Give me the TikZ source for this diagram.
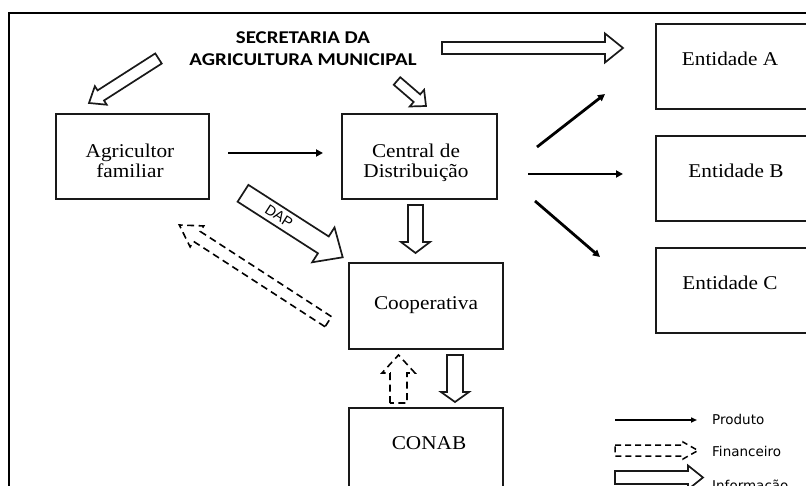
\documentclass[tikz,border=0pt]{standalone}
\usepackage{fontspec}
\setmainfont[FakeStretch=1.09]{Liberation Serif}
\newfontfamily\secfont[FakeStretch=1.16]{Carlito}
\newfontfamily\legfont{DejaVu Sans}
\newfontfamily\dapfont{Liberation Sans}
\usetikzlibrary{calc,arrows.meta}
% block arrow: #1 style, #2 tail, #3 tip, #4 shaft half width, #5 head half width, #6 head length
\newcommand{\blockarr}[6]{%
  \coordinate (bahead) at ($(#3)!#6!(#2)$);
  \draw[#1] ($(#2)!#4!90:(#3)$) -- ($(bahead)!#4!90:(#3)$) -- ($(bahead)!#5!90:(#3)$)
    -- (#3) -- ($(bahead)!#5!-90:(#3)$) -- ($(bahead)!#4!-90:(#3)$) -- ($(#2)!#4!-90:(#3)$) -- cycle;
}
\begin{document}
\begin{tikzpicture}[x=1pt,y=-1pt,
  box/.style={draw=black!90, line width=1.8pt, inner sep=0pt, outer sep=0pt},
  serif/.style={inner sep=0pt, font=\fontsize{19.5}{20}\selectfont, align=center},
  info/.style={draw=black!90, line width=1.7pt, fill=white, line join=miter},
  fin/.style={draw=black, line width=1.6pt, dash pattern=on 7pt off 4.5pt, fill=white},
  prod/.style={line width=2.8pt, -{Triangle[length=7pt,width=7pt]}},
  leg/.style={inner sep=0pt, anchor=base west, font=\legfont\fontsize{13.5}{14}\selectfont}]
\useasboundingbox (0,0) rectangle (806,486);
\clip (0,0) rectangle (806,486);
% frame
\draw[line width=2.5pt] (9,520) -- (9,13) -- (840,13);
% boxes
\node[box, minimum width=153pt, minimum height=85pt] (agr) at (132.5,156.5) {};
\node[box, minimum width=155pt, minimum height=85pt] (cen) at (419.5,156.5) {};
\node[box, minimum width=154pt, minimum height=86pt] (coop) at (426,306) {};
\node[box, minimum width=154pt, minimum height=132pt] (conab) at (426,474) {};
\node[box, minimum width=184pt, minimum height=85pt] (entA) at (748,66.5) {};
\node[box, minimum width=184pt, minimum height=85pt] (entB) at (748,178.5) {};
\node[box, minimum width=184pt, minimum height=85pt] (entC) at (748,290.5) {};
% texts
\node[inner sep=0pt, align=center, font=\secfont\bfseries\fontsize{18}{21.7}\selectfont] (sec) at (303,48.4) {SECRETARIA DA\\AGRICULTURA MUNICIPAL};
\node[serif] (agrtxt) at (130,161) {Agricultor\\familiar};
\node[serif] (centxt) at (416,163) {Central de\\Distribuição};
\node[serif, anchor=base] (cooptxt) at (426,310) {Cooperativa};
\node[serif, anchor=base] (conabtxt) at (429,449) {CONAB};
\node[serif, anchor=base] (entAtxt) at (730,65.7) {Entidade A};
\node[serif, anchor=base] (entBtxt) at (736,177.3) {Entidade B};
\node[serif, anchor=base] (entCtxt) at (730,289.3) {Entidade C};
% coordinates of block arrows
\coordinate (s1a) at (158.5,58.5); \coordinate (s1b) at (89,103);
\coordinate (s2a) at (397,81); \coordinate (s2b) at (426,106);
\coordinate (s3a) at (442,48); \coordinate (s3b) at (623,48);
\coordinate (dapa) at (243,193.3); \coordinate (dapb) at (342.7,257.3);
\coordinate (fina) at (328.3,321.7); \coordinate (finb) at (179.3,225);
\coordinate (cca) at (415.5,205); \coordinate (ccb) at (415.5,253);
\coordinate (cna) at (455,355); \coordinate (cnb) at (455,402);
\coordinate (nca) at (398.5,403); \coordinate (ncb) at (398.5,355);
% information arrows
\blockarr{info}{s1a}{s1b}{6pt}{11pt}{14pt}
\blockarr{info}{s2a}{s2b}{5pt}{11pt}{12pt}
\blockarr{info}{s3a}{s3b}{6pt}{14.5pt}{18pt}
\blockarr{info}{dapa}{dapb}{10pt}{20.7pt}{23pt}
\blockarr{info}{cca}{ccb}{7.5pt}{14.5pt}{11pt}
\blockarr{info}{cna}{cnb}{8pt}{14pt}{10pt}
\node[inner sep=0pt, rotate=-32.7, font=\dapfont\fontsize{14.5}{14.5}\selectfont] (daptxt) at (279,216) {DAP};
% financial arrows
\blockarr{fin}{fina}{finb}{6pt}{12.5pt}{21pt}
\blockarr{fin}{nca}{ncb}{8.5pt}{16.5pt}{18pt}
% product arrows
\coordinate (p0a) at (228,153); \coordinate (p0b) at (323,153);
\draw[prod] (p0a) -- (p0b);
\coordinate (pa1) at (537,147); \coordinate (pa2) at (605,94);
\coordinate (pb1) at (528,174); \coordinate (pb2) at (623,174);
\coordinate (pc1) at (535,201); \coordinate (pc2) at (600,257);
\draw[prod] (pa1) -- (pa2);
\draw[prod] (pb1) -- (pb2);
\draw[prod] (pc1) -- (pc2);
% legend
\coordinate (l1a) at (615,420); \coordinate (l1b) at (697,420);
\draw[line width=2.2pt, -{Triangle[length=6pt,width=5pt]}] (l1a) -- (l1b);
\node[leg] (l1t) at (712,424.5) {Produto};
\coordinate (l2a) at (615,450.5); \coordinate (l2b) at (698,450.5);
\blockarr{fin, line width=1.5pt, dash pattern=on 6pt off 4pt}{l2a}{l2b}{5.5pt}{8.5pt}{15pt}
\node[leg] (l2t) at (712,456) {Financeiro};
\coordinate (l3a) at (615,477.5); \coordinate (l3b) at (703,477.5);
\blockarr{info}{l3a}{l3b}{6.5pt}{12pt}{15pt}
\node[leg] (l3t) at (712,490) {Informação};
\end{tikzpicture}
\end{document}
